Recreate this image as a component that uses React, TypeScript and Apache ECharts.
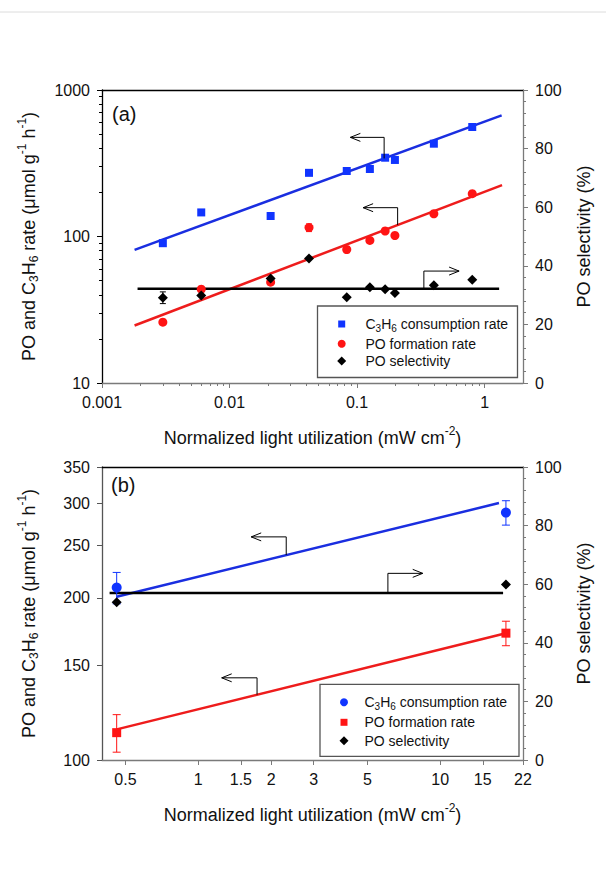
import React, { useEffect, useRef } from "react";
import * as echarts from "echarts";

// ---------------- Panel (a) data ----------------
const aLight = [0.003, 0.006, 0.021, 0.042, 0.083, 0.126, 0.166, 0.198, 0.4, 0.8];
const aC3H6Rate = [90, 146, 138, 272, 280, 289, 345, 333, 430, 559];
const aPORate = [26, 43.7, 48.8, 115, 81.5, 94, 109, 101.6, 143, 196];
const aPORateErr = [0, 0, 0, 7, 4, 0, 0, 0, 0, 0];
const aSelectivity = [29.1, 29.9, 35.7, 42.5, 29.3, 32.7, 32.0, 30.7, 33.4, 35.2];
const aSelectivityErr = [2, 0, 0, 0, 0, 0, 0, 0, 0, 0];
const aC3H6FitX = [0.0018, 1.36];
const aC3H6FitY = [81, 671];
const aPOFitX = [0.0018, 1.37];
const aPOFitY = [24.7, 224];
const aSelFitX = [0.0019, 1.3];
const aSelFitY = [32.2, 32.2];
const aXRange = [0.001, 2];
const aYRange = [10, 1000];
const aXTicks = [0.001, 0.01, 0.1, 1];
const aYTicks = [10, 100, 1000];

// ---------------- Panel (b) data ----------------
const bLight = [0.46, 18.7];
const bC3H6Rate = [209, 288];
const bC3H6RateErr = [14, 15];
const bPORate = [112.4, 172];
const bPORateErr = [9, 9];
const bSelectivity = [53.8, 59.9];
const bC3H6FitX = [0.46, 17.5];
const bC3H6FitY = [201, 300];
const bPOFitX = [0.46, 18.5];
const bPOFitY = [114, 171.8];
const bSelFitX = [0.43, 18.2];
const bSelFitY = [57, 57];
const bXRange = [0.4, 22];
const bYRange = [100, 350];
const bXTicks = [0.5, 1, 1.5, 2, 3, 5, 10, 15, 22];
const bYTicks = [100, 150, 200, 250, 300, 350];

const selTicksMax = 100;

// Arrow annotations (data coordinates: shaft x, from y, to y, head x)
const aArrows = [
  { x: 0.163, yFrom: 341, yTo: 475, xHead: 0.0886, side: "left" },
  { x: 0.208, yFrom: 119.7, yTo: 157.3, xHead: 0.1115, side: "left" },
  { x: 0.334, yFrom: 32.2, yTo: 38.2, xHead: 0.631, side: "right" },
];
const bArrows = [
  { x: 2.31, yFrom: 240.2, yTo: 259.6, xHead: 1.655, side: "left" },
  { x: 6.08, yFrom: 57, yTo: 63.7, xHead: 8.47, side: "right" },
  { x: 1.75, yFrom: 132.2, yTo: 142.1, xHead: 1.25, side: "left" },
];

const FONT = "'Liberation Sans', Arial, Helvetica, sans-serif";
const INK = "#111";
const GRAY = "#7a7a7a";
const BLUE = "#1034ff";
const BLUE_LINE = "#1a2ee0";
const RED = "#ff1414";
const RED_LINE = "#ee1c1c";

const L = (v: number) => Math.log10(v);

function minorLogTicks(lo: number, hi: number) {
  const out: number[] = [];
  for (let d = Math.floor(lo); d <= Math.ceil(hi); d++) {
    for (let k = 2; k <= 9; k++) {
      const v = d + Math.log10(k);
      if (v > lo + 1e-9 && v < hi - 1e-9) out.push(v);
    }
  }
  return out;
}

function fmtFrom(ticks: number[]) {
  return (v: number) => {
    let best = 0;
    ticks.forEach((t, i) => {
      if (Math.abs(L(t) - v) < Math.abs(L(ticks[best]) - v)) best = i;
    });
    return String(ticks[best]);
  };
}

const nameRich = {
  sub: { fontSize: 12, fontFamily: FONT, color: INK, padding: [11, 0, 0, 0] },
  sup: { fontSize: 12, fontFamily: FONT, color: INK, padding: [0, 0, 13, 0] },
};
const nameStyle = { fontSize: 18, fontFamily: FONT, color: INK, rich: nameRich };
const labelStyle = { fontSize: 16, fontFamily: FONT, color: INK };

const X_NAME = "Normalized light utilization (mW cm{sup|-2})";
const Y_NAME = "PO and C{sub|3}H{sub|6} rate (μmol g{sup|-1} h{sup|-1})";
const Y2_NAME = "PO selectivity (%)";

function mainX(grid: number, range: number[], ticks: number[]) {
  return {
    type: "value", gridIndex: grid, position: "bottom",
    min: L(range[0]), max: L(range[1]),
    axisLine: { show: true, onZero: false, lineStyle: { color: GRAY, width: 1.3 } },
    axisTick: { show: true, length: 5, lineStyle: { color: GRAY, width: 1 }, customValues: ticks.map(L) },
    axisLabel: { ...labelStyle, margin: 11, customValues: ticks.map(L), formatter: fmtFrom(ticks) },
    splitLine: { show: false },
    name: X_NAME, nameLocation: "middle", nameGap: 42, nameTextStyle: nameStyle,
  };
}
function minorX(grid: number, range: number[]) {
  return {
    type: "value", gridIndex: grid, position: "bottom",
    min: L(range[0]), max: L(range[1]),
    axisLine: { show: false, onZero: false },
    axisTick: { show: true, length: 3, lineStyle: { color: GRAY, width: 1 }, customValues: minorLogTicks(L(range[0]), L(range[1])) },
    axisLabel: { show: false }, splitLine: { show: false },
  };
}
function topBorder(grid: number, range: number[]) {
  return {
    type: "value", gridIndex: grid, position: "top",
    min: L(range[0]), max: L(range[1]),
    axisLine: { show: true, onZero: false, lineStyle: { color: "#000", width: 1.3 } },
    axisTick: { show: false }, axisLabel: { show: false }, splitLine: { show: false },
  };
}
function mainY(grid: number, range: number[], ticks: number[], color: string) {
  return {
    type: "value", gridIndex: grid, position: "left",
    min: L(range[0]), max: L(range[1]),
    axisLine: { show: true, onZero: false, lineStyle: { color, width: 1.3 } },
    axisTick: { show: true, length: 5, lineStyle: { color, width: 1 }, customValues: ticks.map(L) },
    axisLabel: { ...labelStyle, margin: 12, customValues: ticks.map(L), formatter: fmtFrom(ticks) },
    splitLine: { show: false },
    name: Y_NAME, nameLocation: "middle", nameRotate: 90, nameGap: 61, nameTextStyle: nameStyle,
  };
}
function minorY(grid: number, range: number[], color: string) {
  return {
    type: "value", gridIndex: grid, position: "left",
    min: L(range[0]), max: L(range[1]),
    axisLine: { show: false, onZero: false },
    axisTick: { show: true, length: 3, lineStyle: { color, width: 1 }, customValues: minorLogTicks(L(range[0]), L(range[1])) },
    axisLabel: { show: false }, splitLine: { show: false },
  };
}
function rightY(grid: number) {
  return {
    type: "value", gridIndex: grid, position: "right",
    min: 0, max: selTicksMax, interval: 20,
    axisLine: { show: true, onZero: false, lineStyle: { color: GRAY, width: 1.3 } },
    axisTick: { show: true, length: 5, lineStyle: { color: GRAY, width: 1 } },
    minorTick: { show: true, splitNumber: 5, length: 3, lineStyle: { color: GRAY, width: 1 } },
    axisLabel: { ...labelStyle, margin: 12 },
    splitLine: { show: false }, minorSplitLine: { show: false },
    name: Y2_NAME, nameLocation: "middle", nameRotate: 90, nameGap: 52, nameTextStyle: nameStyle,
  };
}

function fitLine(xi: number, yi: number, xs: number[], ys: number[], logY: boolean, color: string) {
  return {
    type: "line", xAxisIndex: xi, yAxisIndex: yi, showSymbol: false, symbol: "none",
    data: xs.map((x, i) => [L(x), logY ? L(ys[i]) : ys[i]]),
    lineStyle: { color, width: 2.5 }, z: 2, silent: true,
  };
}
function scatter(xi: number, yi: number, xs: number[], ys: number[], logY: boolean, symbol: string, size: number, color: string) {
  return {
    type: "scatter", xAxisIndex: xi, yAxisIndex: yi, symbol, symbolSize: size,
    data: xs.map((x, i) => [L(x), logY ? L(ys[i]) : ys[i]]),
    itemStyle: { color, opacity: 1 }, z: 4,
  };
}
function errBars(xi: number, yi: number, xs: number[], ys: number[], es: number[], logY: boolean, color: string, cap: number) {
  const data: number[][] = [];
  xs.forEach((x, i) => {
    if (es[i] > 0) {
      const lo = ys[i] - es[i], hi = ys[i] + es[i];
      data.push([L(x), logY ? L(lo) : lo, logY ? L(hi) : hi]);
    }
  });
  return {
    type: "custom", xAxisIndex: xi, yAxisIndex: yi, z: 3, silent: true,
    encode: { x: 0, y: [1, 2] },
    data,
    renderItem: (params: any, api: any) => {
      const p1 = api.coord([api.value(0), api.value(1)]);
      const p2 = api.coord([api.value(0), api.value(2)]);
      const st = { stroke: color, lineWidth: 1 };
      return {
        type: "group",
        children: [
          { type: "line", shape: { x1: p1[0], y1: p1[1], x2: p2[0], y2: p2[1] }, style: st },
          { type: "line", shape: { x1: p1[0] - cap, y1: p1[1], x2: p1[0] + cap, y2: p1[1] }, style: st },
          { type: "line", shape: { x1: p2[0] - cap, y1: p2[1], x2: p2[0] + cap, y2: p2[1] }, style: st },
        ],
      };
    },
  };
}

function buildOption() {
  // axes: grid 0 -> x 0(main),1(minor),2(top) ; y 0(main),1(minor),2(right)
  //       grid 1 -> x 3(main),4(top) ; y 3(main),4(right)
  return {
    animation: false,
    backgroundColor: "#fff",
    grid: [
      { left: 102, top: 90, width: 421, height: 293 },
      { left: 102, top: 467, width: 421, height: 293 },
    ],
    xAxis: [
      mainX(0, aXRange, aXTicks), minorX(0, aXRange), topBorder(0, aXRange),
      mainX(1, bXRange, bXTicks), topBorder(1, bXRange),
    ],
    yAxis: [
      mainY(0, aYRange, aYTicks, "#000"), minorY(0, aYRange, "#000"), rightY(0),
      mainY(1, bYRange, bYTicks, "#555"), rightY(1),
    ],
    series: [
      fitLine(0, 0, aC3H6FitX, aC3H6FitY, true, BLUE_LINE),
      fitLine(0, 0, aPOFitX, aPOFitY, true, RED_LINE),
      fitLine(0, 2, aSelFitX, aSelFitY, false, "#000"),
      errBars(0, 0, aLight, aPORate, aPORateErr, true, RED, 3),
      errBars(0, 2, aLight, aSelectivity, aSelectivityErr, false, "#000", 3),
      scatter(0, 0, aLight, aC3H6Rate, true, "rect", 8, BLUE),
      scatter(0, 0, aLight, aPORate, true, "circle", 9, RED),
      scatter(0, 2, aLight, aSelectivity, false, "diamond", 10, "#000"),

      fitLine(3, 3, bC3H6FitX, bC3H6FitY, true, BLUE_LINE),
      fitLine(3, 3, bPOFitX, bPOFitY, true, RED_LINE),
      fitLine(3, 4, bSelFitX, bSelFitY, false, "#000"),
      errBars(3, 3, bLight, bC3H6Rate, bC3H6RateErr, true, BLUE, 4),
      errBars(3, 3, bLight, bPORate, bPORateErr, true, RED, 4),
      scatter(3, 3, bLight, bC3H6Rate, true, "circle", 10, BLUE),
      scatter(3, 3, bLight, bPORate, true, "rect", 9, RED),
      scatter(3, 4, bLight, bSelectivity, false, "diamond", 10, "#000"),
    ],
  };
}

type Arrow = { x: number; yFrom: number; yTo: number; xHead: number; side: string };

function arrowEls(chart: any, arrows: Arrow[], xi: number, yLeft: number, yRight: number) {
  const els: any[] = [];
  arrows.forEach((a) => {
    const yi = a.side === "left" ? yLeft : yRight;
    const ty = (v: number) => (a.side === "left" ? L(v) : v);
    const p0 = chart.convertToPixel({ xAxisIndex: xi, yAxisIndex: yi }, [L(a.x), ty(a.yFrom)]);
    const p1 = chart.convertToPixel({ xAxisIndex: xi, yAxisIndex: yi }, [L(a.x), ty(a.yTo)]);
    const p2 = chart.convertToPixel({ xAxisIndex: xi, yAxisIndex: yi }, [L(a.xHead), ty(a.yTo)]);
    const dir = p2[0] < p1[0] ? 1 : -1;
    els.push({
      type: "polyline", z: 20,
      shape: { points: [p0, p1, p2] },
      style: { stroke: "#000", lineWidth: 1, fill: null },
    });
    els.push({
      type: "polyline", z: 20,
      shape: { points: [[p2[0] + dir * 10, p2[1] - 4], [p2[0], p2[1]], [p2[0] + dir * 10, p2[1] + 4]] },
      style: { stroke: "#000", lineWidth: 1, fill: null },
    });
  });
  return els;
}

type LegendRow = { shape: string; color: string; text: string };

function legendEls(box: number[], symX: number, textX: number, rowYs: number[], rows: LegendRow[]) {
  const els: any[] = [
    {
      type: "rect", z: 30,
      shape: { x: box[0], y: box[1], width: box[2], height: box[3] },
      style: { fill: "#fff", stroke: "#555", lineWidth: 1.3 },
    },
  ];
  rows.forEach((r, i) => {
    const y = rowYs[i];
    if (r.shape === "rect") {
      els.push({ type: "rect", z: 31, shape: { x: symX - 3.5, y: y - 3.5, width: 7, height: 7 }, style: { fill: r.color } });
    } else if (r.shape === "circle") {
      els.push({ type: "circle", z: 31, shape: { cx: symX, cy: y, r: 4 }, style: { fill: r.color } });
    } else {
      els.push({
        type: "polygon", z: 31,
        shape: { points: [[symX, y - 4.5], [symX + 4.5, y], [symX, y + 4.5], [symX - 4.5, y]] },
        style: { fill: r.color },
      });
    }
    els.push({
      type: "text", z: 31, x: textX, y,
      style: {
        text: r.text, fontSize: 14, fontFamily: FONT, fill: INK, verticalAlign: "middle", align: "left",
        rich: { sub: { fontSize: 10, fontFamily: FONT, fill: INK, padding: [9, 0, 0, 0] } },
      },
    });
  });
  return els;
}

function buildGraphic(chart: any) {
  const els: any[] = [
    { type: "line", shape: { x1: 0, y1: 12, x2: 606, y2: 12 }, style: { stroke: "#dcdcdc", lineWidth: 1 } },
    { type: "text", x: 112, y: 114, z: 25, style: { text: "(a)", fontSize: 20, fontFamily: FONT, fill: INK, verticalAlign: "middle" } },
    { type: "text", x: 111, y: 485, z: 25, style: { text: "(b)", fontSize: 20, fontFamily: FONT, fill: INK, verticalAlign: "middle" } },
    ...arrowEls(chart, aArrows, 0, 0, 2),
    ...arrowEls(chart, bArrows, 3, 3, 4),
    ...legendEls([317.5, 306, 200, 71.5], 341.7, 365.5, [324, 343.7, 361], [
      { shape: "rect", color: BLUE, text: "C{sub|3}H{sub|6} consumption rate" },
      { shape: "circle", color: RED, text: "PO formation rate" },
      { shape: "diamond", color: "#000", text: "PO selectivity" },
    ]),
    ...legendEls([320, 684.3, 199, 72], 344, 364.5, [702.3, 722.3, 740.7], [
      { shape: "circle", color: BLUE, text: "C{sub|3}H{sub|6} consumption rate" },
      { shape: "rect", color: RED, text: "PO formation rate" },
      { shape: "diamond", color: "#000", text: "PO selectivity" },
    ]),
  ];
  return { elements: els };
}

export default function App() {
  const ref = useRef<HTMLDivElement>(null);
  useEffect(() => {
    const el = ref.current;
    if (!el) return;
    const chart = echarts.init(el, undefined, { renderer: "svg", width: 606, height: 891 });
    chart.setOption(buildOption() as any);
    chart.setOption({ graphic: buildGraphic(chart) } as any);
    return () => chart.dispose();
  }, []);
  return (
    <div
      ref={ref}
      style={{ position: "fixed", left: 0, top: 0, width: 606, height: 891, background: "#fff" }}
    />
  );
}
